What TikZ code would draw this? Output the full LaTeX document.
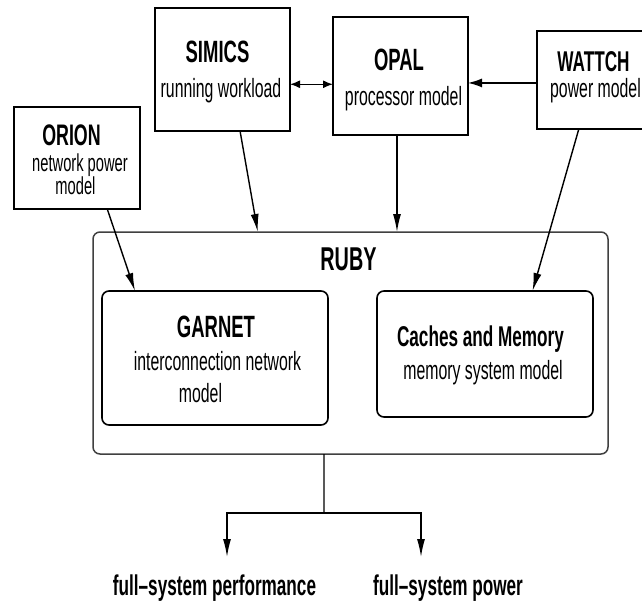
\documentclass[tikz,border=0pt]{standalone}
\usepackage{fontspec}
\setmainfont{Liberation Sans}[FakeStretch=0.6]
\usetikzlibrary{arrows.meta,calc}
\begin{document}
\begin{tikzpicture}[x=1pt,y=-1pt,
  box/.style={draw=black, line width=2pt, inner sep=0pt, outer sep=0pt},
  rbox/.style={draw=black, line width=1.6pt, rounded corners=7pt, inner sep=0pt, outer sep=0pt},
  ttl/.style={anchor=base, inner sep=0pt, font=\fontsize{30.8}{34}\selectfont\bfseries},
  txt/.style={anchor=base, inner sep=0pt, font=\fontsize{26.4}{30}\selectfont},
  conn/.style={line width=1.4pt, -{Latex[length=18pt,width=8pt]}},
]
\useasboundingbox (0,0) rectangle (642,600);
\fill[white] (0,0) rectangle (642,600);

% boxes
\node[box, minimum width=126pt, minimum height=102pt] (orion) at (77,158) {};
\node[box, minimum width=135pt, minimum height=123pt] (simics) at (222.5,69.5) {};
\node[box, minimum width=135pt, minimum height=118pt] (opal) at (400.5,76) {};
\node[box, minimum width=113pt, minimum height=98pt] (wattch) at (593.5,80) {};
\node[rbox, draw=black!75, line width=1.5pt, minimum width=515pt, minimum height=222pt] (ruby) at (350.5,343) {};
\node[rbox, minimum width=226pt, minimum height=134pt] (garnet) at (215,358) {};
\node[rbox, minimum width=216pt, minimum height=126pt] (caches) at (485,354) {};

% texts
\node[ttl, font=\fontsize{29.7}{33}\selectfont\bfseries] (orionT) at (71.5,145) {ORION};
\node[txt, font=\fontsize{24.5}{28}\selectfont] (orionA) at (80,171) {network power};
\node[txt, font=\fontsize{24.5}{28}\selectfont] (orionB) at (75.5,194) {model};
\node[ttl] (simicsT) at (217.5,62) {SIMICS};
\node[txt] (simicsA) at (221,97) {running workload};
\node[ttl] (opalT) at (399,70) {OPAL};
\node[txt] (opalA) at (403.5,105) {processor model};
\node[ttl, font=\fontsize{28.6}{32}\selectfont\bfseries] (wattchT) at (593.5,71) {WATTCH};
\node[txt] (wattchA) at (595.5,97) {power model};
\node[ttl, font=\fontsize{33}{36}\selectfont\bfseries] (rubyT) at (348.5,270) {RUBY};
\node[ttl] (garnetT) at (216,337) {GARNET};
\node[txt] (garnetA) at (217.5,370) {interconnection network};
\node[txt] (garnetB) at (200.5,402) {model};
\node[ttl, font=\fontsize{28.6}{32}\selectfont\bfseries] (cachesT) at (480.5,346) {Caches and Memory};
\node[txt] (cachesA) at (483,379) {memory system model};
\node[ttl, font=\fontsize{28.6}{32}\selectfont\bfseries] (perf) at (214.5,595) {full--system performance};
\node[ttl, font=\fontsize{28.6}{32}\selectfont\bfseries] (pow) at (448,595) {full--system power};

% connectors
\coordinate (sa) at ($(simics.north east)!0.62!(simics.south east)$);
\draw[line width=1.4pt, {Latex[length=10pt,width=8pt]}-{Latex[length=10pt,width=8pt]}] (sa) -- (sa -| opal.west);
\coordinate (wa) at ($(wattch.north west)!0.53!(wattch.south west)$);
\draw[line width=1.4pt, -{Latex[length=14pt,width=9pt]}] (wa) -- (wa -| opal.east);
\draw[conn] ($(orion.south west)!0.74!(orion.south east)$) -- ($(garnet.north west)!0.146!(garnet.north east)$);
\draw[conn] ($(simics.south west)!0.63!(simics.south east)$) -- ($(ruby.north west)!0.32!(ruby.north east)$);
\coordinate (ob) at ($(opal.south west)!0.474!(opal.south east)$);
\draw[conn] (ob) -- (ob |- ruby.north);
\draw[conn] ($(wattch.south west)!0.37!(wattch.south east)$) -- ($(caches.north west)!0.72!(caches.north east)$);

\coordinate (split) at (324,513);
\coordinate (perfEnd) at (227,557);
\coordinate (powEnd) at (421,557);
\draw[line width=1.4pt] ($(ruby.south west)!0.4485!(ruby.south east)$) -- (split);
\draw[conn] (split) -| (perfEnd);
\draw[conn] (split) -| (powEnd);
\end{tikzpicture}
\end{document}
